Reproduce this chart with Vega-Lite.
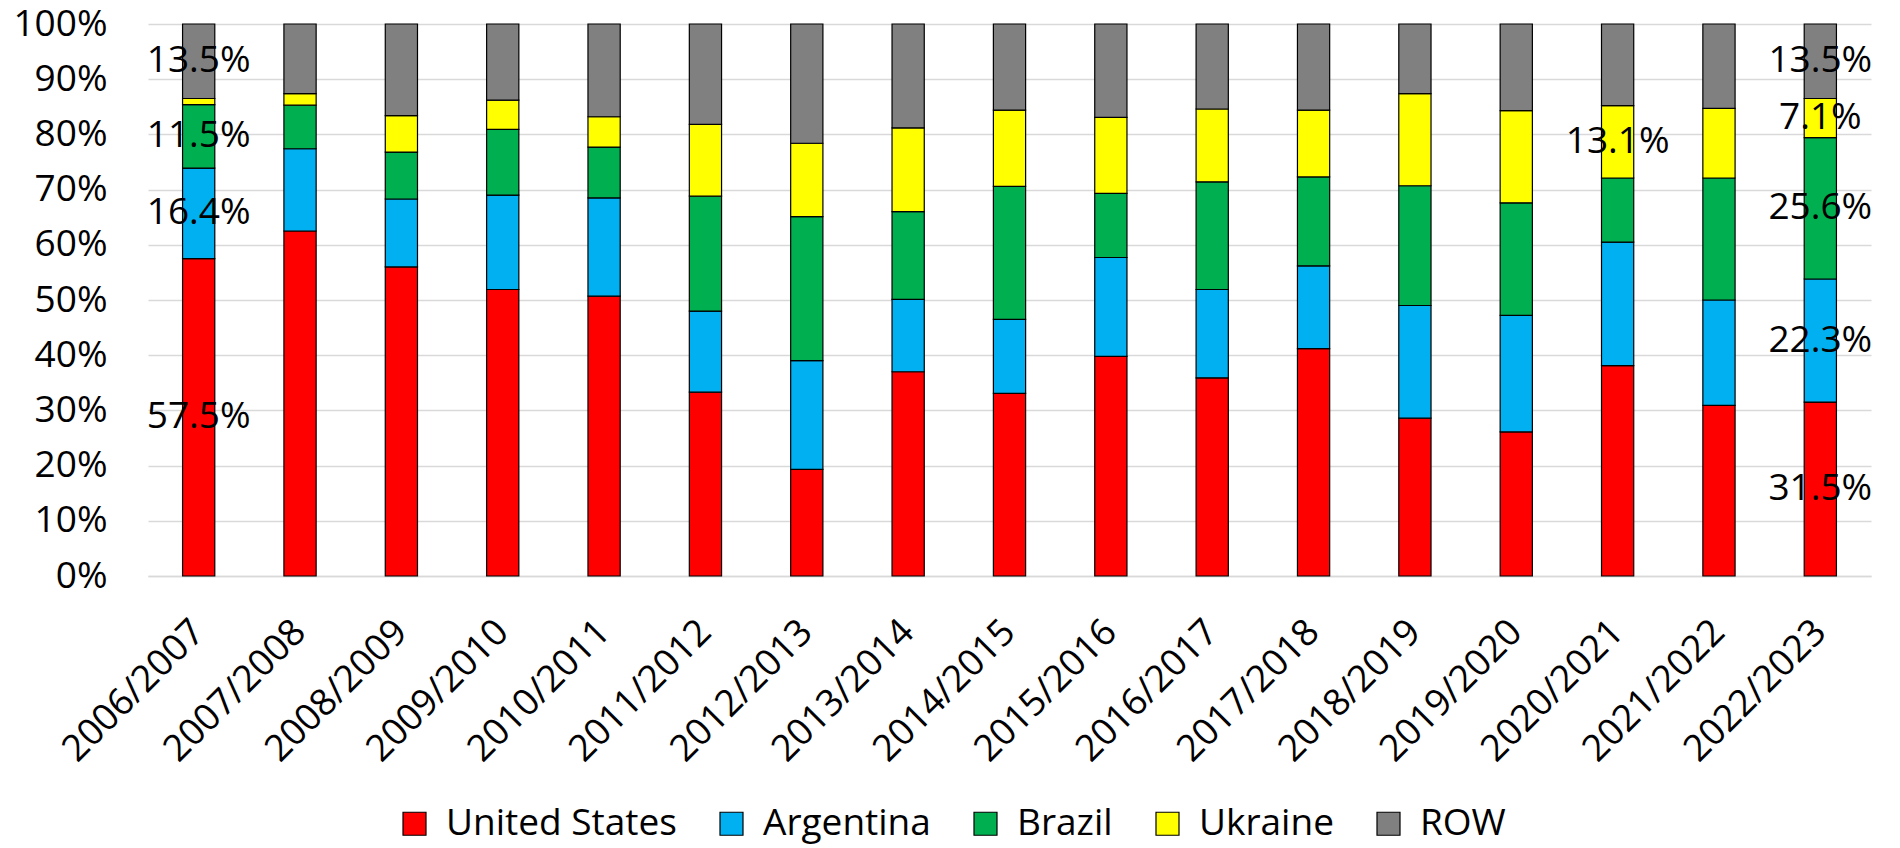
{
  "$schema": "https://vega.github.io/schema/vega-lite/v6.json",
  "width": 1723,
  "height": 552,
  "autosize": {"type": "none"},
  "padding": {"left": 148, "top": 24, "right": 29, "bottom": 272},
  "background": "white",
  "config": {
    "view": {"stroke": null},
    "font": "Open Sans"
  },
  "data": {
    "values": [
      {"season": "2006/2007", "country": "United States", "share": 57.5},
      {"season": "2006/2007", "country": "Argentina", "share": 16.4},
      {"season": "2006/2007", "country": "Brazil", "share": 11.5},
      {"season": "2006/2007", "country": "Ukraine", "share": 1.1},
      {"season": "2006/2007", "country": "ROW", "share": 13.5},
      {"season": "2007/2008", "country": "United States", "share": 62.5},
      {"season": "2007/2008", "country": "Argentina", "share": 14.9},
      {"season": "2007/2008", "country": "Brazil", "share": 7.9},
      {"season": "2007/2008", "country": "Ukraine", "share": 2.1},
      {"season": "2007/2008", "country": "ROW", "share": 12.6},
      {"season": "2008/2009", "country": "United States", "share": 56.0},
      {"season": "2008/2009", "country": "Argentina", "share": 12.3},
      {"season": "2008/2009", "country": "Brazil", "share": 8.5},
      {"season": "2008/2009", "country": "Ukraine", "share": 6.6},
      {"season": "2008/2009", "country": "ROW", "share": 16.6},
      {"season": "2009/2010", "country": "United States", "share": 51.9},
      {"season": "2009/2010", "country": "Argentina", "share": 17.1},
      {"season": "2009/2010", "country": "Brazil", "share": 11.9},
      {"season": "2009/2010", "country": "Ukraine", "share": 5.3},
      {"season": "2009/2010", "country": "ROW", "share": 13.8},
      {"season": "2010/2011", "country": "United States", "share": 50.7},
      {"season": "2010/2011", "country": "Argentina", "share": 17.8},
      {"season": "2010/2011", "country": "Brazil", "share": 9.2},
      {"season": "2010/2011", "country": "Ukraine", "share": 5.5},
      {"season": "2010/2011", "country": "ROW", "share": 16.8},
      {"season": "2011/2012", "country": "United States", "share": 33.3},
      {"season": "2011/2012", "country": "Argentina", "share": 14.7},
      {"season": "2011/2012", "country": "Brazil", "share": 20.8},
      {"season": "2011/2012", "country": "Ukraine", "share": 13.0},
      {"season": "2011/2012", "country": "ROW", "share": 18.2},
      {"season": "2012/2013", "country": "United States", "share": 19.3},
      {"season": "2012/2013", "country": "Argentina", "share": 19.7},
      {"season": "2012/2013", "country": "Brazil", "share": 26.1},
      {"season": "2012/2013", "country": "Ukraine", "share": 13.3},
      {"season": "2012/2013", "country": "ROW", "share": 21.6},
      {"season": "2013/2014", "country": "United States", "share": 37.0},
      {"season": "2013/2014", "country": "Argentina", "share": 13.1},
      {"season": "2013/2014", "country": "Brazil", "share": 15.9},
      {"season": "2013/2014", "country": "Ukraine", "share": 15.2},
      {"season": "2013/2014", "country": "ROW", "share": 18.8},
      {"season": "2014/2015", "country": "United States", "share": 33.1},
      {"season": "2014/2015", "country": "Argentina", "share": 13.4},
      {"season": "2014/2015", "country": "Brazil", "share": 24.1},
      {"season": "2014/2015", "country": "Ukraine", "share": 13.8},
      {"season": "2014/2015", "country": "ROW", "share": 15.6},
      {"season": "2015/2016", "country": "United States", "share": 39.8},
      {"season": "2015/2016", "country": "Argentina", "share": 17.9},
      {"season": "2015/2016", "country": "Brazil", "share": 11.6},
      {"season": "2015/2016", "country": "Ukraine", "share": 13.8},
      {"season": "2015/2016", "country": "ROW", "share": 16.9},
      {"season": "2016/2017", "country": "United States", "share": 35.9},
      {"season": "2016/2017", "country": "Argentina", "share": 16.0},
      {"season": "2016/2017", "country": "Brazil", "share": 19.5},
      {"season": "2016/2017", "country": "Ukraine", "share": 13.2},
      {"season": "2016/2017", "country": "ROW", "share": 15.4},
      {"season": "2017/2018", "country": "United States", "share": 41.2},
      {"season": "2017/2018", "country": "Argentina", "share": 15.0},
      {"season": "2017/2018", "country": "Brazil", "share": 16.1},
      {"season": "2017/2018", "country": "Ukraine", "share": 12.1},
      {"season": "2017/2018", "country": "ROW", "share": 15.6},
      {"season": "2018/2019", "country": "United States", "share": 28.6},
      {"season": "2018/2019", "country": "Argentina", "share": 20.4},
      {"season": "2018/2019", "country": "Brazil", "share": 21.7},
      {"season": "2018/2019", "country": "Ukraine", "share": 16.7},
      {"season": "2018/2019", "country": "ROW", "share": 12.6},
      {"season": "2019/2020", "country": "United States", "share": 26.1},
      {"season": "2019/2020", "country": "Argentina", "share": 21.1},
      {"season": "2019/2020", "country": "Brazil", "share": 20.4},
      {"season": "2019/2020", "country": "Ukraine", "share": 16.7},
      {"season": "2019/2020", "country": "ROW", "share": 15.7},
      {"season": "2020/2021", "country": "United States", "share": 38.1},
      {"season": "2020/2021", "country": "Argentina", "share": 22.4},
      {"season": "2020/2021", "country": "Brazil", "share": 11.6},
      {"season": "2020/2021", "country": "Ukraine", "share": 13.1},
      {"season": "2020/2021", "country": "ROW", "share": 14.8},
      {"season": "2021/2022", "country": "United States", "share": 30.9},
      {"season": "2021/2022", "country": "Argentina", "share": 19.1},
      {"season": "2021/2022", "country": "Brazil", "share": 22.1},
      {"season": "2021/2022", "country": "Ukraine", "share": 12.6},
      {"season": "2021/2022", "country": "ROW", "share": 15.3},
      {"season": "2022/2023", "country": "United States", "share": 31.5},
      {"season": "2022/2023", "country": "Argentina", "share": 22.3},
      {"season": "2022/2023", "country": "Brazil", "share": 25.6},
      {"season": "2022/2023", "country": "Ukraine", "share": 7.1},
      {"season": "2022/2023", "country": "ROW", "share": 13.5}
    ]
  },
  "transform": [
    {"calculate": "indexof(['United States', 'Argentina', 'Brazil', 'Ukraine', 'ROW'], datum.country)", "as": "stackOrder"},
    {"stack": "share", "groupby": ["season"], "sort": [{"field": "stackOrder", "order": "ascending"}], "as": ["s0", "s1"]},
    {"calculate": "(datum.s0 + datum.s1) / 2", "as": "mid"},
    {"calculate": "format(datum.share, '.1f') + '%'", "as": "label"}
  ],
  "encoding": {
    "x": {
      "field": "season",
      "type": "nominal",
      "sort": null,
      "title": null,
      "scale": {"paddingInner": 0.682, "paddingOuter": 0.341},
      "axis": {
        "labelAngle": -45,
        "labelAlign": "right",
        "labelBaseline": "middle",
        "labelFontSize": 37,
        "labelFont": "Open Sans",
        "labelColor": "black",
        "labelPadding": 50,
        "labelDx": 14,
        "labelLimit": 0,
        "labelOverlap": false,
        "ticks": false,
        "domainColor": "#D9D9D9",
        "domainWidth": 1.5,
        "grid": false
      }
    }
  },
  "layer": [
    {
      "mark": {"type": "bar", "stroke": "black", "strokeWidth": 1.2},
      "encoding": {
        "y": {
          "field": "s1",
          "type": "quantitative",
          "title": null,
          "scale": {"domain": [0, 100]},
          "axis": {
            "values": [0, 10, 20, 30, 40, 50, 60, 70, 80, 90, 100],
            "labelExpr": "datum.value + '%'",
            "labelFontSize": 37,
            "labelFont": "Open Sans",
            "labelColor": "black",
            "labelPadding": 41,
            "labelLimit": 0,
            "ticks": false,
            "domain": false,
            "gridColor": "#D9D9D9",
            "gridWidth": 1.5
          }
        },
        "y2": {"field": "s0"},
        "color": {
          "field": "country",
          "type": "nominal",
          "scale": {
            "domain": ["United States", "Argentina", "Brazil", "Ukraine", "ROW"],
            "range": ["#FF0000", "#00B0F0", "#00B050", "#FFFF00", "#808080"]
          },
          "legend": {
            "title": null,
            "orient": "none",
            "direction": "horizontal",
            "legendX": 248,
            "legendY": 781,
            "symbolType": "square",
            "symbolSize": 529,
            "symbolStrokeColor": "black",
            "symbolStrokeWidth": 1.2,
            "symbolOpacity": 1,
            "labelFontSize": 37,
            "labelFont": "Open Sans",
            "labelColor": "black",
            "labelOffset": 13,
            "labelLimit": 0,
            "columnPadding": 36
          }
        }
      }
    },
    {
      "transform": [
        {"filter": "(datum.season == '2006/2007' && datum.country != 'Ukraine') || datum.season == '2022/2023' || (datum.season == '2020/2021' && datum.country == 'Ukraine')"}
      ],
      "mark": {"type": "text", "align": "center", "baseline": "middle", "fontSize": 37, "font": "Open Sans", "color": "black"},
      "encoding": {
        "y": {"field": "mid", "type": "quantitative"},
        "text": {"field": "label"}
      }
    }
  ]
}
